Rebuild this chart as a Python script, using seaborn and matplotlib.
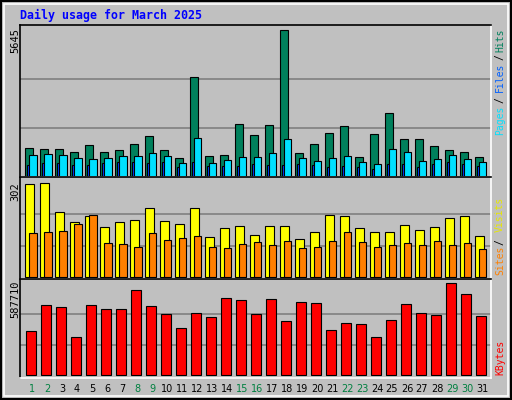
import numpy as np
import matplotlib
matplotlib.use("Agg")
import matplotlib.pyplot as plt
import seaborn as sns

days = list(range(1, 32))
weekend_days = [1, 2, 8, 9, 15, 16, 22, 23, 29, 30]

hits = [1124, 1086, 1086, 971, 1239, 971, 1047, 1277, 1584, 1047, 741, 3844, 817, 856, 2043, 1622,
        2005, 5645, 932, 1277, 1699, 1967, 779, 1660, 2465, 1469, 1469, 1200, 1047, 971, 779]
files = [856, 894, 856, 741, 702, 741, 817, 817, 932, 817, 549, 1507, 549, 664, 779, 779,
         932, 1469, 741, 626, 741, 817, 587, 511, 1085, 971, 626, 702, 856, 702, 587]
pages = [472, 549, 549, 472, 472, 549, 587, 587, 549, 587, 396, 587, 434, 434, 434, 511,
         472, 472, 511, 472, 396, 434, 396, 319, 511, 511, 396, 511, 587, 511, 434]
visits = [299, 302, 210, 177, 197, 161, 177, 184, 223, 181, 171, 223, 128, 158, 164, 135,
          164, 164, 121, 144, 200, 197, 158, 144, 144, 167, 151, 161, 190, 197, 131]
sites = [141, 144, 148, 171, 200, 108, 105, 98, 141, 118, 125, 131, 98, 92, 105, 112,
         102, 115, 92, 98, 115, 144, 112, 98, 102, 108, 102, 115, 102, 108, 89]
kbytes = [285300, 446200, 433300, 246700, 446200, 420400, 420400, 542700, 439700, 388200,
          304600, 394700, 368900, 491200, 478300, 388200, 484800, 343200, 465500, 459000,
          291700, 330300, 323900, 246700, 349600, 452600, 394700, 381800, 587710, 516900, 375400]

BG = "#C0C0C0"
C_HITS, C_FILES, C_PAGES = "#00805C", "#00E0FF", "#0040FF"
C_VISITS, C_SITES, C_KB = "#FFFF00", "#FF8000", "#FF0000"
MONO = "DejaVu Sans Mono"

sns.set_style("white")
W, H = 512, 400
fig = plt.figure(figsize=(W / 100, H / 100), dpi=100)
fig.patch.set_facecolor(BG)


def px_axes(x0, y0, x1, y1):
    return fig.add_axes([x0 / W, 1 - y1 / H, (x1 - x0) / W, (y1 - y0) / H])


def style(ax, ymin, ymax, vmax):
    ax.set_facecolor(BG)
    ax.set_xlim(0, 31.4)
    ax.set_ylim(ymin, ymax)
    for g in (vmax / 3, 2 * vmax / 3):
        ax.axhline(g, color="#808080", lw=1.2, zorder=0)
    ax.set_xticks([])
    ax.set_yticks([])
    for s in ("top", "left"):
        ax.spines[s].set_color("black")
    for s in ("bottom", "right"):
        ax.spines[s].set_color("white")
    for s in ax.spines.values():
        s.set_linewidth(1.2)


x = np.arange(31)
bk = dict(edgecolor="black", linewidth=0.8, align="edge", zorder=2)

ax1 = px_axes(20, 25, 491, 177)
style(ax1, 0, 5821, 5645)
ax1.bar(x + 0.35, hits, width=0.49, color=C_HITS, **bk)
ax1.bar(x + 0.46, pages, width=0.18, color=C_PAGES, **bk)
ax1.bar(x + 0.61, files, width=0.49, color=C_FILES, **bk)

ax2 = px_axes(20, 177, 491, 279)
style(ax2, -6.6, 321.7, 302)
ax2.bar(x + 0.35, visits, width=0.55, color=C_VISITS, **bk)
ax2.bar(x + 0.61, sites, width=0.49, color=C_SITES, **bk)

ax3 = px_axes(20, 279, 491, 378)
style(ax3, -16700, 613400, 587710)
ax3.bar(x + 0.41, kbytes, width=0.66, color=C_KB, **bk)

# outer frame with bevel
fig.add_artist(plt.Rectangle((4 / W, 4 / H), 1 - 8 / W, 1 - 8 / H, transform=fig.transFigure,
                             fill=False, edgecolor="white", lw=1.2))
fig.add_artist(plt.Rectangle((0.002, 0.002), 0.996, 0.996, transform=fig.transFigure,
                             fill=False, edgecolor="black", lw=1.5))

fig.text(20 / W, 1 - 15 / H, "Daily usage for March 2025", family=MONO, weight="bold",
         fontsize=8.4, color="#0000FF", va="center", ha="left")


def vtext(xp, ytop, s, color, size=7):
    fig.text(xp / W, 1 - ytop / H, s, rotation=90, ha="center", va="top",
             family=MONO, fontsize=size, color=color)


vtext(15, 28, "5645", "black", 7.5)
vtext(15, 182, "302", "black", 7.5)
vtext(15, 281, "587710", "black", 7.5)

vtext(500, 29, "Hits", C_HITS)
vtext(500, 54, "/", "black")
vtext(500, 63, "Files", "#0060FF")
vtext(500, 97, "/", "black")
vtext(500, 106, "Pages", C_FILES)
vtext(500, 197, "Visits", "#E8E800")
vtext(500, 239, "/", "black")
vtext(500, 246, "Sites", C_SITES)
vtext(500, 340, "KBytes", C_KB)

for d in days:
    xp = 20 + (d - 1) * 15 + 12
    fig.text(xp / W, 1 - 389 / H, str(d), ha="center", va="center", fontsize=7,
             family="DejaVu Sans", color="#008040" if d in weekend_days else "black")

fig.savefig("out.png", dpi=100, facecolor=BG)
